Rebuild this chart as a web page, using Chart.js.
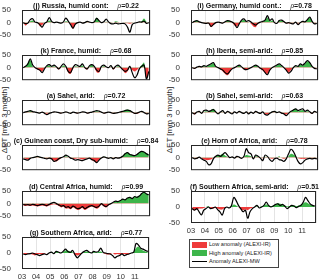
<!DOCTYPE html>
<html>
<head>
<meta charset="utf-8">
<script src="https://cdn.jsdelivr.net/npm/chart.js@4/dist/chart.umd.min.js"></script>
<style>
  body { margin: 0; width: 320px; height: 280px; background: #fff; position: relative; overflow: hidden; font-family: 'Liberation Sans', Arial, sans-serif; }
  canvas { position: absolute; }
  .title { position: absolute; height: 9px; line-height: 9px; font-size: 7px; font-weight: bold; color: #111; white-space: nowrap; transform: translateX(-50%); }
  .title i { font-family: 'Liberation Serif', serif; font-weight: normal; font-size: 7.5px; margin-left: 9px; }
  .ylab { position: absolute; width: 90px; height: 10px; line-height: 10px; font-size: 8px; text-align: center; color: #222; transform: rotate(-90deg); white-space: nowrap; }
  .legend { position: absolute; left: 189px; top: 239px; width: 88px; height: 27px; border: 1px solid #444; font-size: 5.6px; color: #222; }
  .legend div { position: absolute; left: 2px; height: 7px; line-height: 7px; white-space: nowrap; }
  .legend span.sw { display: inline-block; width: 15px; height: 6px; vertical-align: middle; margin-right: 2px; }
  .legend span.ln { display: inline-block; width: 15px; height: 0; border-top: 1.3px solid #000; vertical-align: middle; margin-right: 2px; }
</style>
</head>
<body>
<div class="ylab" style="left:-40px; top:115px;">ΔET [mm 3 month]</div>
<div class="ylab" style="left:125px; top:115px;">ΔET [mm 3 month]</div>
<div class="legend">
  <div style="top:1px"><span class="sw" style="background:#ef3b3b"></span>Low anomaly (ALEXI-IR)</div>
  <div style="top:9.5px"><span class="sw" style="background:#3db54a"></span>High anomaly  (ALEXI-IR)</div>
  <div style="top:18px"><span class="ln"></span>Anomaly  ALEXI-MW</div>
</div>
<script>
document.addEventListener('DOMContentLoaded', function() {
  // bi-monthly steps, Jan 2003 .. Dec 2011
  const years = Array.from({ length: 54 }, (_, i) => 2003 + (i + 0.5) / 6);
  const yearTicks = [2003, 2004, 2005, 2006, 2007, 2008, 2009, 2010, 2011, 2012];

  // anomaly values [mm / 3 month]: MW = black line, IR = filled area
  const russiaMW = [0,-4,-2,12,15,2, 0,-8,-18,-3,3,20, 5,0,2,0,-2,3, 18,6,-8,-22,-6,0, 2,-2,0,5,2,0, 3,17,8,0,3,14, 3,-4,-5,-2,-5,-4, -3,-5,-18,-38,-8,-2, 0,3,2,6,-3,0];
  const russiaIR = [0,-12,-3,5,8,0, 0,-14,-10,0,2,8, 2,0,0,0,-2,0, 5,2,-5,-25,-8,0, 0,-2,0,6,0,0, 5,20,6,0,0,3, 0,-2,0,5,3,0, 0,-2,-3,-5,-2,0, 0,2,5,16,3,0];
  const germanyMW = [0,5,8,3,0,-2, -3,-2,-15,-8,0,2, 0,-2,3,8,6,2, -5,-20,-5,10,15,5, 8,2,-5,-10,-3,2, 5,10,28,8,15,0, -3,8,10,4,-2,0, -3,-5,2,-8,0,5, 3,12,22,5,-5,-3];
  const germanyIR = [0,5,8,2,0,-2, -3,-5,-18,-10,-2,0, 0,-3,2,7,5,0, -12,-15,-5,8,10,3, 2,-5,-15,-18,-5,0, 3,8,20,5,8,0, 0,6,8,3,-3,-3, -5,-3,0,-5,0,3, 2,10,20,5,-3,0];
  const franceMW = [0,5,15,35,10,0, -5,-10,-20,-5,8,12, 5,10,3,-5,5,15, 5,-15,-20,0,12,8, 5,15,0,-5,8,12, 5,-10,-15,5,10,3, 0,8,-5,5,10,2, -8,-15,-10,5,-20,-40, -30,-5,5,10,-45,-15];
  const franceIR = [0,5,20,30,5,-2, -8,-12,-15,-3,5,8, 2,5,0,-8,0,8, 0,-20,-25,-5,5,3, 3,8,-2,-8,5,10, 0,-18,-20,0,5,0, 0,3,-8,0,5,0, -10,-22,-15,0,-10,-15, -10,0,10,20,-45,-20];
  const iberiaMW = [0,-3,2,5,3,8, 5,10,15,20,5,0, -5,-10,-20,-25,-15,-5, 0,5,10,3,-5,-8, -5,0,5,10,5,-3, -8,-20,-28,-10,0,5, 10,15,8,0,-10,-22, -15,0,8,5,15,10, 18,28,20,5,-3,-5];
  const iberiaIR = [0,-5,0,3,2,5, 3,8,12,18,3,0, -8,-15,-25,-30,-20,-5, 0,3,8,0,-8,-10, -5,0,3,8,3,-5, -12,-20,-25,-8,0,3, 8,12,5,0,-12,-20, -10,0,5,3,12,8, 15,25,18,3,-3,-5];
  const sahelAridMW = [0,3,5,8,4,2, 0,-2,2,-3,-8,-3, 0,3,2,0,-2,0, 3,0,-3,2,0,-2, 0,3,2,-2,0,2, 5,8,6,2,-2,0, 2,0,-3,-2,0,3, 5,8,10,8,2,-3, -2,2,5,0,-5,-3];
  const sahelAridIR = [0,2,3,6,3,0, 0,-2,0,-3,-5,-2, 0,2,0,-2,-3,0, 2,0,-2,0,-2,-3, 0,2,0,-3,-2,0, 3,5,3,0,-3,-2, 0,-2,-3,-2,0,2, 5,10,12,8,0,-5, -5,-2,2,0,-5,-2];
  const sahelSemiMW = [0,-5,2,5,-3,8, 10,5,8,12,3,-5, 2,8,-3,5,0,-5, 3,-2,5,0,-3,3, -5,2,-3,5,0,-3, 3,-8,-10,-3,3,5, 0,3,-2,-5,-12,-3, 5,10,15,8,12,15, 5,10,3,-3,5,0];
  const sahelSemiIR = [0,-8,0,2,-2,3, 5,2,10,15,5,-2, 0,3,-2,2,0,-3, 0,-2,2,0,-2,0, -3,0,-2,3,0,-2, 0,-5,-8,-2,3,5, 2,0,-3,-5,-8,-2, 3,12,15,5,8,10, 2,5,0,-5,2,0];
  const guineanMW = [-5,-8,-10,-3,0,2, 5,2,0,-3,-5,-2, -5,-15,-12,-5,0,3, 10,5,-2,-5,-10,-8, -10,-12,-8,-5,-2,-8, -12,-20,-10,-2,3,0, -3,0,-5,0,-2,0, 5,15,20,12,10,8, 12,20,25,22,15,10];
  const guineanIR = [-3,-5,-8,-2,0,3, 5,3,0,-2,-5,-3, -8,-12,-15,-10,-2,0, 5,2,-3,-5,-5,-3, -5,-8,-5,-3,-2,-10, -15,-18,-8,0,3,2, -2,0,-3,-2,-2,0, 8,18,20,15,10,8, 12,20,25,22,18,12];
  const hornMW = [0,-5,-3,2,-5,-10, -15,-28,-25,-5,5,10, 5,12,20,10,0,3, -2,5,2,-3,5,35, 20,15,-5,10,5,-2, -12,10,5,-8,-15,-5, -2,-8,-10,-15,-5,15, 33,25,5,-15,-25,-20, -10,-5,-3,-5,-3,-5];
  const hornIR = [0,-3,-5,0,-3,-8, -10,-10,-8,-2,5,8, 10,15,8,3,0,2, 0,3,0,-2,3,10, 8,5,-2,5,3,0, -3,3,2,-3,-5,-2, 0,5,-2,-5,-2,5, 15,12,5,-3,-5,-5, -5,-3,-2,-5,-5,-3];
  const centralMW = [-3,-5,-4,-6,-3,-5, -8,-5,-3,-5,-8,-3, 2,5,0,-5,-10,-8, -15,-12,-18,-10,-15,-20, -18,-12,-20,-15,-10,-8, -12,-15,-10,0,-8,-12, -5,0,5,10,8,12, 18,15,22,25,20,28, 25,30,40,45,38,35];
  const centralIR = [-8,-10,-8,-10,-8,-10, -12,-10,-8,-10,-12,-8, -5,-3,-5,-10,-15,-12, -20,-18,-22,-15,-20,-25, -22,-18,-25,-20,-15,-12, -15,-20,-15,-5,-12,-15, -8,-2,3,8,8,12, 18,15,22,25,22,28, 27,32,40,45,40,36];
  const southSemiMW = [-5,-10,-5,-15,-25,-10, -5,0,-5,-3,0,-8, -15,-25,-5,0,-3,5, 30,20,5,-5,-15,-10, -35,-15,-5,0,5,-3, 0,5,15,5,0,3, 8,10,5,8,3,-5, 0,5,3,-2,2,5, 15,30,20,10,5,3];
  const southSemiIR = [-8,-10,-8,-5,-5,-3, 0,2,-3,-5,-2,-5, -8,-8,-3,0,0,3, 8,5,0,-8,-10,-8, -10,-5,-2,0,2,0, 2,5,8,5,3,5, 8,12,10,8,5,2, 3,5,5,3,5,8, 12,15,12,8,5,3];
  const southAridMW = [-3,-5,-3,-2,0,-3, -5,-8,-5,-3,-5,0, 3,-2,5,3,0,5, 12,5,2,8,-5,-15, -8,0,5,8,3,0, 5,3,5,15,2,0, -2,-3,-8,-15,-10,-8, -3,-8,-5,-3,0,2, 30,25,15,12,8,5];
  const southAridIR = [-3,-3,-2,-3,-5,-8, -5,-3,-5,-2,0,0, 2,0,3,2,0,3, 8,8,5,2,-5,-8, -5,0,3,5,3,0, 3,2,3,5,0,-3, -5,-3,0,-5,-3,-5, -3,-3,-5,-3,0,5, 15,20,12,8,5,3];

  const panels = [
    { label: '(j) Russia, humid cont:', rho: '0.22', mw: russiaMW, ir: russiaIR, col: 0, row: 0 },
    { label: '(k) France, humid:', rho: '0.68', mw: franceMW, ir: franceIR, col: 0, row: 1 },
    { label: '(a) Sahel, arid:', rho: '0.72', mw: sahelAridMW, ir: sahelAridIR, col: 0, row: 2 },
    { label: '(c) Guinean coast, Dry sub-humid:', rho: '0.84', mw: guineanMW, ir: guineanIR, col: 0, row: 3 },
    { label: '(d) Central Africa, humid:', rho: '0.99', mw: centralMW, ir: centralIR, col: 0, row: 4 },
    { label: '(g) Southern Africa, arid:', rho: '0.77', mw: southAridMW, ir: southAridIR, col: 0, row: 5, bottom: true },
    { label: '(i) Germany, humid cont.:', rho: '0.78', mw: germanyMW, ir: germanyIR, col: 1, row: 0 },
    { label: '(h) Iberia, semi-arid:', rho: '0.85', mw: iberiaMW, ir: iberiaIR, col: 1, row: 1 },
    { label: '(b) Sahel, semi-arid:', rho: '0.63', mw: sahelSemiMW, ir: sahelSemiIR, col: 1, row: 2 },
    { label: '(e) Horn of Africa, arid:', rho: '0.78', mw: hornMW, ir: hornIR, col: 1, row: 3 },
    { label: '(f) Southern Africa, semi-arid:', rho: '0.51', mw: southSemiMW, ir: southSemiIR, col: 1, row: 4, bottom: true }
  ];

  const rowTops = [10, 55, 100, 145, 191, 237];
  const boxH = 32;

  // dark box round the plot area
  const framePlugin = {
    id: 'frame',
    afterDraw(chart) {
      const ctx = chart.ctx;
      const a = chart.chartArea;
      ctx.save();
      ctx.strokeStyle = '#262626';
      ctx.lineWidth = 1;
      ctx.strokeRect(a.left + 0.5, a.top + 0.5, a.right - a.left - 1, a.bottom - a.top - 1);
      ctx.restore();
    }
  };

  panels.forEach(function(p) {
    const cv = document.createElement('canvas');
    const xh = p.bottom ? 12 : 0;
    const left = p.col === 0 ? 0 : 169;
    const w = p.col === 0 ? 152 : 150;
    const h = 10 + boxH + xh + 1;
    cv.width = w;
    cv.height = h;
    cv.style.left = left + 'px';
    cv.style.top = (rowTops[p.row] - 10) + 'px';
    document.body.appendChild(cv);

    // panel title, centred over the box
    const t = document.createElement('div');
    t.className = 'title';
    t.innerHTML = p.label + '<i>ρ</i>=' + p.rho;
    t.style.left = (left + 22 + (w - 22 - (p.col === 0 ? 2 : 1)) / 2) + 'px';
    t.style.top = (rowTops[p.row] - 9.5) + 'px';
    document.body.appendChild(t);

    new Chart(cv.getContext('2d'), {
      type: 'line',
      data: {
        datasets: [
          {
            data: p.mw.map((v, i) => ({ x: years[i], y: v })),
            borderColor: '#000',
            borderWidth: 1.2,
            pointRadius: 0,
            fill: false,
            tension: 0.35
          },
          {
            data: p.ir.map((v, i) => ({ x: years[i], y: v })),
            borderWidth: 0,
            borderColor: 'rgba(0,0,0,0)',
            pointRadius: 0,
            tension: 0.35,
            fill: { target: 'origin', above: '#3db54a', below: '#ef3b3b' }
          }
        ]
      },
      options: {
        responsive: false,
        animation: false,
        events: [],
        layout: { padding: { top: 10, right: p.col === 0 ? 2 : 1, bottom: 1, left: 0 } },
        plugins: {
          legend: { display: false },
          tooltip: { enabled: false }
        },
        scales: {
          x: {
            type: 'linear',
            min: 2003,
            max: 2012,
            border: { display: false },
            grid: { color: '#e4e4e4', drawTicks: false },
            afterBuildTicks: s => { s.ticks = yearTicks.map(v => ({ value: v })); },
            ticks: {
              display: !!p.bottom,
              autoSkip: false,
              maxRotation: 0,
              padding: 3,
              color: '#333',
              font: { family: 'Liberation Sans', size: 7.5 },
              callback: v => v < 2012 ? String(v).slice(2) : ''
            },
            afterFit: s => { s.height = xh; }
          },
          y: {
            min: -50,
            max: 50,
            border: { display: false },
            grid: { display: false },
            ticks: {
              stepSize: 50,
              padding: 3,
              color: '#333',
              font: { family: 'Liberation Sans', size: 8 }
            },
            afterFit: s => { s.width = 22; }
          }
        }
      },
      plugins: [framePlugin]
    });
  });
});
</script>
</body>
</html>
